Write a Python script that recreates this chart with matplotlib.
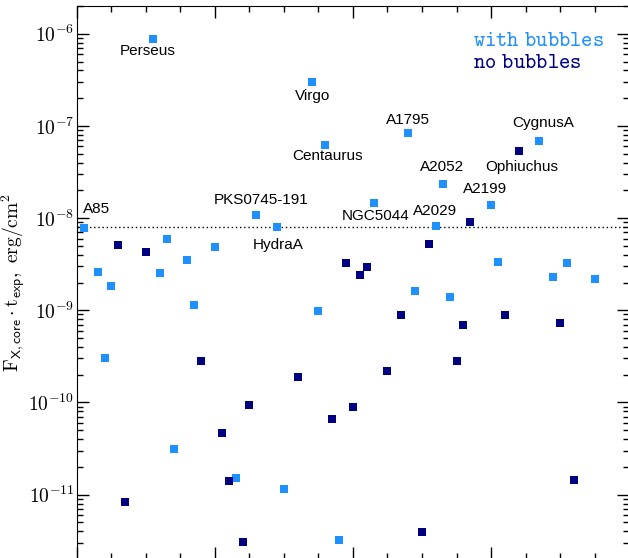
# Core X-ray fluence (flux x exposure) for the cluster sample, split by bubble detection

import math
import matplotlib.pyplot as plt
from matplotlib.ticker import FixedLocator, LogLocator, FuncFormatter, NullFormatter

plt.rcParams['mathtext.fontset'] = 'cm'

# Objects with detected bubbles
bub_idx = [1, 3, 4, 5, 11, 12, 13, 14, 16, 17, 20, 23, 26, 29, 30, 34, 35, 36,
           38, 43, 48, 49, 52, 53, 54, 60, 61, 67, 69, 71, 75]
bub_val = [7.8e-9, 2.6e-9, 3.0e-10, 1.84e-9, 8.8e-7, 2.54e-9, 5.9e-9, 3.1e-11,
           3.5e-9, 1.14e-9, 4.9e-9, 1.5e-11, 1.08e-8, 8.0e-9, 1.15e-11, 3.0e-7,
           9.8e-10, 6.2e-8, 3.2e-12, 1.46e-8, 8.4e-8, 1.62e-9, 8.2e-9, 2.35e-8,
           1.39e-9, 1.39e-8, 3.34e-9, 6.9e-8, 2.3e-9, 3.27e-9, 2.19e-9]

# Objects without bubbles
nob_idx = [6, 7, 10, 18, 21, 22, 24, 25, 32, 37, 39, 40, 41, 42, 45, 47, 50,
           51, 55, 56, 57, 62, 64, 70, 72]
nob_val = [5.1e-9, 8.3e-12, 4.3e-9, 2.8e-10, 4.65e-11, 1.4e-11, 3.05e-12,
           9.4e-11, 1.89e-10, 6.6e-11, 3.27e-9, 8.9e-11, 2.42e-9, 2.95e-9,
           2.2e-10, 8.9e-10, 3.9e-12, 5.25e-9, 2.8e-10, 6.9e-10, 9.1e-9, 8.9e-10,
           5.4e-8, 7.3e-10, 1.44e-11]

# Named objects: index in sample and label offset (points)
names = ['Perseus', 'Virgo', 'Centaurus', 'A1795', 'A2052', 'A2199', 'NGC5044',
         'A2029', 'CygnusA', 'Ophiuchus', 'PKS0745-191', 'HydraA', 'A85']
name_idx = [11, 34, 36, 48, 53, 60, 43, 52, 67, 64, 26, 29, 1]
name_off = [(-3.6, -8.6), (0.7, -10), (1.4, -8), (0, 9.4), (-0.7, 12.2),
            (-4.3, 11.5), (1.4, -9.4), (-0.7, 10.8), (2.9, 13), (2.2, -11.5),
            (3.6, 10.8), (0.7, -13), (9.4, 13.7)]

y_decades = [1e-11, 1e-10, 1e-9, 1e-8, 1e-7, 1e-6]
threshold = 8e-9

light = '#1e90ff'
dark = '#000080'

fig = plt.figure(figsize=(6.28, 5.58), dpi=100)
ax = fig.add_axes([0.1226, -0.0018, 0.879, 0.991])

ax.semilogy(bub_idx, bub_val, 's', color=light, ms=6, mew=0, zorder=3)
ax.semilogy(nob_idx, nob_val, 's', color=dark, ms=6, mew=0, zorder=4)
ax.axhline(threshold, color='black', ls=(0, (1, 2)), lw=1, zorder=2)

lookup = dict(zip(bub_idx, bub_val))
lookup.update(zip(nob_idx, nob_val))
for name, i, off in zip(names, name_idx, name_off):
    ax.annotate(name, (i, lookup[i]), xytext=off, textcoords='offset points',
                ha='center', va='center', fontsize=11, family='Liberation Sans')

ax.text(0.718, 0.939, r'$\mathtt{with\ bubbles}$', color=light, fontsize=15.5,
        transform=ax.transAxes, va='center', ha='left')
ax.text(0.718, 0.899, r'$\mathtt{no\ bubbles}$', color=dark, fontsize=15.5,
        transform=ax.transAxes, va='center', ha='left')

ax.set_xlim(0, 80)
ax.set_ylim(2e-12, 2e-6)
ax.xaxis.set_major_locator(FixedLocator([0, 20, 40, 60, 80]))
ax.xaxis.set_minor_locator(FixedLocator(range(0, 81, 5)))
ax.yaxis.set_major_locator(FixedLocator(y_decades))
ax.yaxis.set_minor_locator(LogLocator(base=10, subs=range(2, 10), numticks=20))
ax.yaxis.set_major_formatter(FuncFormatter(lambda v, p: r'$10^{%d}$' % round(math.log10(v))))
ax.yaxis.set_minor_formatter(NullFormatter())
ax.tick_params(which='both', direction='in', top=True, right=True, width=1,
               labelbottom=False)
ax.tick_params(which='major', length=8.5, labelsize=14, pad=2)
ax.tick_params(which='minor', length=4.5)

ax.set_ylabel(r'$\mathrm{F}_{\mathsf{X,core}}\cdot\mathrm{t}_{\mathsf{exp}},\ \mathrm{erg/cm^2}$',
              fontsize=14)
ax.yaxis.set_label_coords(-0.09, 0.5)

fig.savefig('out.png', dpi=100)
